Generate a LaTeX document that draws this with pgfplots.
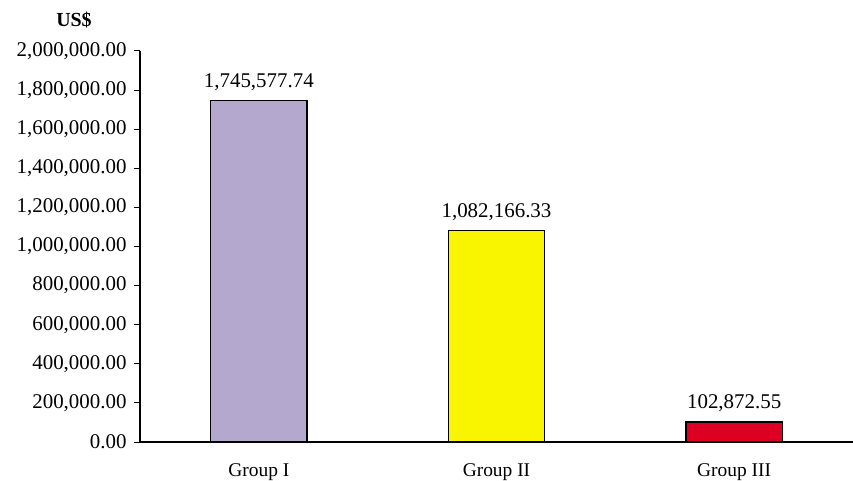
\documentclass[border=0pt]{standalone}
\usepackage{fontspec}
\setmainfont{Liberation Serif}
\usepackage{pgfplots}
\pgfplotsset{compat=1.18}
\definecolor{cI}{RGB}{180,168,206}
\definecolor{cII}{RGB}{249,244,0}
\definecolor{cIII}{RGB}{221,0,34}
\begin{document}
\begin{tikzpicture}
\useasboundingbox (-140bp,-39bp) rectangle (713bp,442bp);
\begin{axis}[
  scale only axis,
  width=713bp, height=391bp,
  xmin=-0.5, xmax=2.5,
  ymin=0, ymax=2000000,
  axis x line*=bottom, axis y line*=left,
  axis line style={line width=1.2bp},
  xtick={0,1,2},
  xticklabels={Group I, Group II, Group III},
  major x tick style={draw=none},
  extra x ticks={0.5,1.5,2.5},
  extra x tick labels={},
  extra x tick style={tick style={line width=1bp, black}, major tick length=6bp, tick align=outside, grid=none},
  ytick={0,200000,...,2000000},
  scaled y ticks=false,
  yticklabel style={/pgf/number format/fixed, /pgf/number format/fixed zerofill, /pgf/number format/precision=2, /pgf/number format/1000 sep={,}, /pgf/number format/assume math mode=true, xshift=-4bp, font=\fontsize{21}{24}\selectfont},
  ytick style={line width=1bp, black},
  tick align=outside,
  major tick length=6bp,
  xticklabel style={yshift=-12bp, font=\fontsize{19.5}{23}\selectfont},
  ybar, bar width=0.405,
  bar shift=0pt,
  point meta=explicit symbolic,
  nodes near coords,
  every node near coord/.append style={font=\fontsize{21}{24}\selectfont, yshift=6bp, black},
]
\addplot[fill=cI, draw=black, line width=1.3bp] table[meta=label] {
x y label
0 1745577.74 1,745,577.74
};
\addplot[fill=cII, draw=black, line width=1.3bp] table[meta=label] {
x y label
1 1082166.33 1,082,166.33
};
\addplot[fill=cIII, draw=black, line width=1.3bp] table[meta=label] {
x y label
2 102872.55 102,872.55
};
\end{axis}
\node[font=\bfseries\fontsize{20}{23}\selectfont] at (-66bp,422bp) {US\$};
\end{tikzpicture}
\end{document}
